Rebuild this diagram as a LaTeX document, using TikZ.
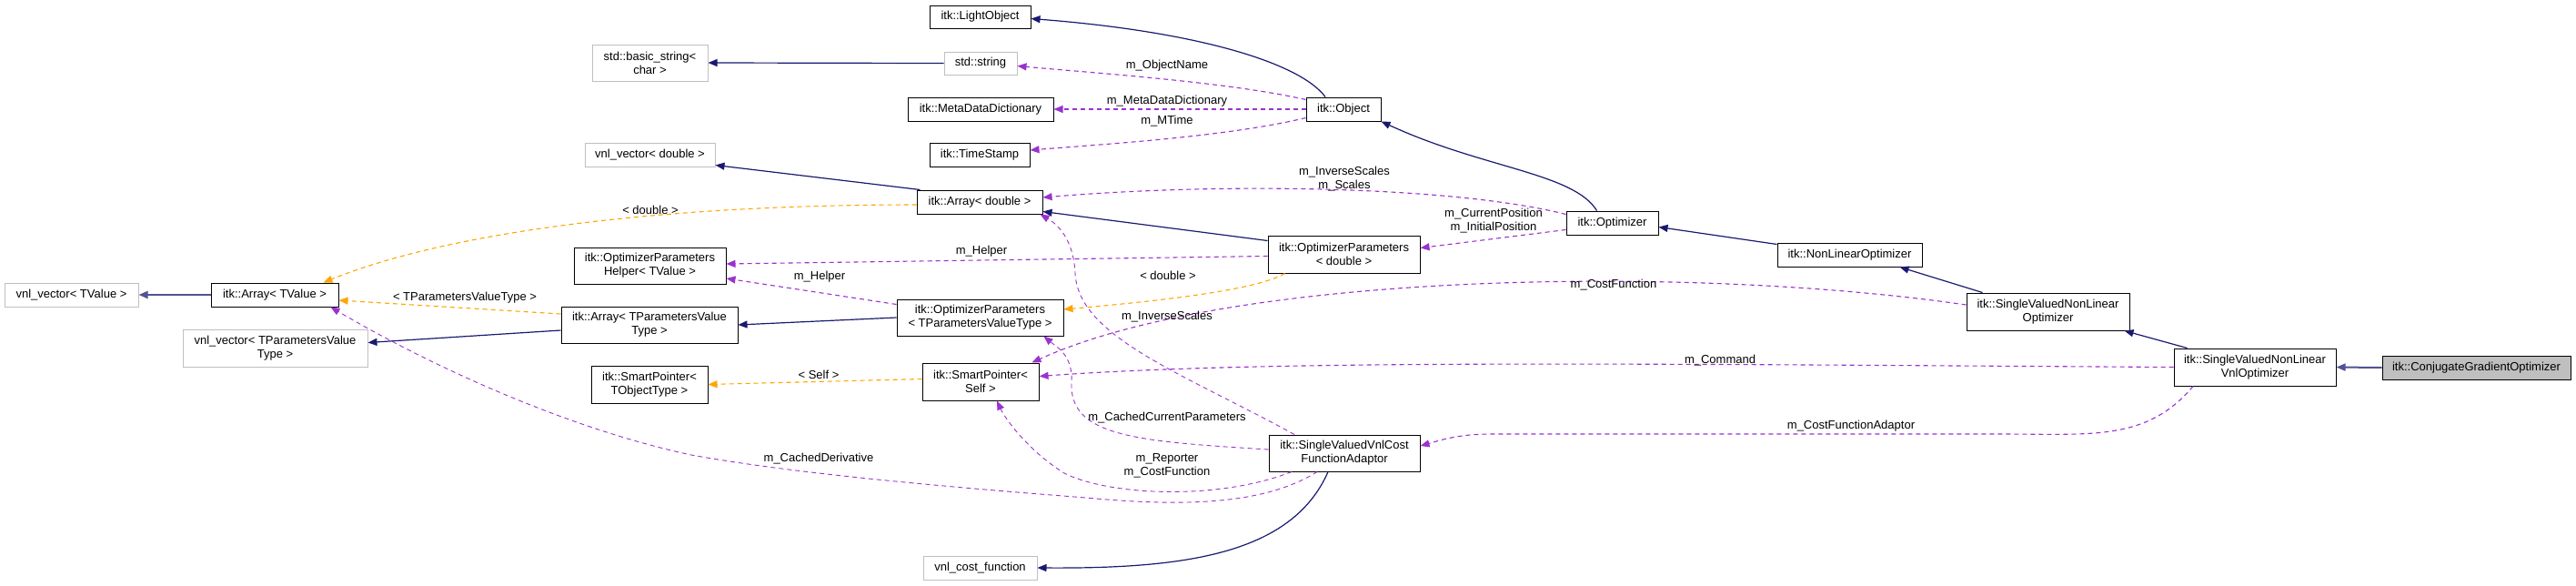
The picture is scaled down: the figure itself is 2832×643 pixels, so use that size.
\documentclass[tikz,border=0pt]{standalone}
\usepackage{fontspec}
\setmainfont{Liberation Sans}
\usetikzlibrary{arrows.meta}
\definecolor{inhc}{HTML}{191970}
\definecolor{usec}{HTML}{9A32CD}
\definecolor{tplc}{HTML}{FFA500}
\definecolor{grayb}{HTML}{BFBFBF}
\begin{document}
\begin{tikzpicture}[x=1pt,y=-1pt,
  every node/.style={font=\fontsize{13}{15}\selectfont},
  cls/.style={draw=black,line width=1pt,inner sep=0pt,align=center,fill=white},
  ext/.style={draw=grayb,line width=1pt,inner sep=0pt,align=center,fill=white},
  tgt/.style={draw=black,line width=1pt,inner sep=0pt,align=center,fill=grayb},
  sz/.style 2 args={minimum width=#1pt,minimum height=#2pt},
  inh/.style={draw=inhc,line width=1.2pt,-{Triangle[length=10pt,width=8pt]}},
  use/.style={draw=usec,line width=1.1pt,dash pattern=on 5pt off 4pt,-{Triangle[length=10pt,width=8pt]}},
  tpl/.style={draw=tplc,line width=1.1pt,dash pattern=on 5pt off 4pt,-{Triangle[length=10pt,width=8pt]}},
  lbl/.style={inner sep=0pt,align=center}]
\useasboundingbox[fill=white] (0,0) rectangle (2832,643);
% nodes
\node[ext,sz={147}{26}] (vtv) at (78.5,324) {vnl\_vector< TValue >};
\node[cls,sz={140}{26}] (atv) at (302,324) {itk::Array< TValue >};
\node[ext,sz={203}{41}] (vtp) at (302.5,382.5) {vnl\_vector< TParametersValue\\Type >};
\node[ext,sz={143}{26}] (vd) at (714.5,170) {vnl\_vector< double >};
\node[cls,sz={110}{26}] (ts) at (1077,170) {itk::TimeStamp};
\node[cls,sz={138}{26}] (ad) at (1077,222) {itk::Array< double >};
\node[cls,sz={167}{40}] (oph) at (714.5,292) {itk::OptimizerParameters\\Helper< TValue >};
\node[cls,sz={194}{40}] (atp) at (714,357) {itk::Array< TParametersValue\\Type >};
\node[cls,sz={183}{40}] (optp) at (1077.5,349) {itk::OptimizerParameters\\< TParametersValueType >};
\node[cls,sz={128}{41}] (spt) at (714,422.5) {itk::SmartPointer<\\TObjectType >};
\node[cls,sz={128}{41}] (sps) at (1078,419.5) {itk::SmartPointer<\\Self >};
\node[ext,sz={125}{26}] (vcf) at (1077.5,624) {vnl\_cost\_function};
\node[cls,sz={111}{25}] (lo) at (1077.5,18.5) {itk::LightObject};
\node[ext,sz={127}{40}] (bs) at (714.5,69) {std::basic\_string<\\char >};
\node[ext,sz={80}{25}] (ss) at (1078,69.5) {std::string};
\node[cls,sz={160}{26}] (mdd) at (1078,120) {itk::MetaDataDictionary};
\node[cls,sz={82}{26}] (obj) at (1477,120) {itk::Object};
\node[cls,sz={101}{26}] (opt) at (1772.5,245) {itk::Optimizer};
\node[cls,sz={167}{41}] (opd) at (1477.5,279.5) {itk::OptimizerParameters\\< double >};
\node[cls,sz={159}{26}] (nlo) at (2033.5,280) {itk::NonLinearOptimizer};
\node[cls,sz={179}{41}] (svo) at (2251.5,342.5) {itk::SingleValuedNonLinear\\Optimizer};
\node[cls,sz={178}{41}] (vno) at (2479,403.5) {itk::SingleValuedNonLinear\\VnlOptimizer};
\node[tgt,sz={207}{26}] (cgo) at (2722.5,404) {itk::ConjugateGradientOptimizer};
\node[cls,sz={166}{40}] (ada) at (1478,498) {itk::SingleValuedVnlCost\\FunctionAdaptor};
% inheritance
\draw[inh,line width=2pt,draw=inhc!75] (cgo.west) -- (vno.east);
\draw[inh] ([xshift=15pt]vno.north west) -- ([xshift=-6pt]svo.south east);
\draw[inh] ([xshift=18pt]svo.north west) -- ([xshift=-25pt]nlo.south east);
\draw[inh] ([yshift=-2pt]nlo.north west) -- ([yshift=9pt]opt.south east);
\draw[inh] ([xshift=-17pt]opt.north) .. controls (1730,190) and (1630,185) .. (obj.south east);
\draw[inh] ([xshift=-20pt]obj.north) .. controls (1430,70) and (1320,35) .. ([yshift=-2pt]lo.east);
\draw[inh] (ss.west) -- (bs.east);
\draw[inh] ([xshift=4pt]ad.north west) -- ([yshift=2pt]vd.south east);
\draw[inh] ([yshift=-6pt]opd.north west) -- ([yshift=3pt]ad.south east);
\draw[inh] (optp.west) -- (atp.east);
\draw[inh] ([yshift=-6pt]atp.west) -- ([yshift=6pt]vtp.east);
\draw[inh,line width=2pt,draw=inhc!75] (atv.west) -- (vtv.east);
\draw[inh] ([xshift=-18pt]ada.south) .. controls (1420,610) and (1300,625) .. (vcf.east);
% template
\draw[tpl] ([yshift=-3pt]ad.west) .. controls (700,225) and (480,260) .. ([xshift=-17pt]atv.north east);
\node[lbl] (l1) at (715,231) {< double >};
\draw[tpl] ([yshift=12pt]atp.west) -- ([yshift=-6pt]atv.east);
\node[lbl] (l2) at (511,327) {< TParametersValueType >};
\draw[tpl] ([xshift=-65pt]opd.south) .. controls (1380,320) and (1260,332) .. ([yshift=9pt]optp.east);
\node[lbl] (l3) at (1284,303) {< double >};
\draw[tpl] ([yshift=3pt]sps.west) -- (spt.east);
\node[lbl] (l4) at (900,412) {< Self >};
% usage
\draw[use] ([yshift=-3pt]obj.north west) .. controls (1350,90) and (1200,80) .. ([yshift=-3pt]ss.east);
\node[lbl] (l5) at (1283,72) {m\_ObjectName};
\draw[use] (obj.west) -- (mdd.east);
\node[lbl] (l6) at (1283,111) {m\_MetaDataDictionary};
\draw[use] ([yshift=4pt]obj.south west) .. controls (1350,150) and (1220,158) .. ([yshift=5pt]ts.east);
\node[lbl] (l7) at (1283,133) {m\_MTime};
\draw[use] ([yshift=-4pt]opt.north west) .. controls (1600,205) and (1350,200) .. ([yshift=5pt]ad.east);
\node[lbl] (l8) at (1478,197) {m\_InverseScales\\m\_Scales};
\draw[use] ([yshift=6pt]opt.south west) -- ([yshift=7pt]opd.east);
\node[lbl] (l9) at (1642,243) {m\_CurrentPosition\\m\_InitialPosition};
\draw[use] ([yshift=-2pt]opd.west) -- ([yshift=2pt]oph.east);
\node[lbl] (l10) at (1079,276) {m\_Helper};
\draw[use] ([yshift=-6pt]optp.north west) -- ([yshift=-14pt]oph.east);
\node[lbl] (l11) at (901,304) {m\_Helper};
\draw[use] ([yshift=7.5pt]svo.west) .. controls (1850,290) and (1350,300) .. ([xshift=-8pt]sps.north east);
\node[lbl] (l12) at (1774,313) {m\_CostFunction};
\draw[use] (vno.west) .. controls (1800,400) and (1400,395) .. ([yshift=6pt]sps.east);
\node[lbl] (l13) at (1891,396) {m\_Command};
\draw[use] ([xshift=-68pt]vno.south) .. controls (2360,485) and (2300,477) .. (2200,477) -- (1640,477) .. controls (1600,477) and (1580,485) .. ([yshift=8pt]ada.east);
\node[lbl] (l14) at (2035,468) {m\_CostFunctionAdaptor};
\draw[use,line width=0.9pt] ([xshift=-55pt]ada.north) .. controls (1300,410) and (1185,370) .. (1182,300) .. controls (1180,260) and (1160,245) .. ([xshift=-3pt]ad.south east);
\node[lbl] (l15) at (1283,348) {m\_InverseScales};
\draw[use,line width=0.9pt] ([yshift=4pt]ada.west) .. controls (1250,485) and (1175,480) .. (1178,420) .. controls (1180,390) and (1160,380) .. ([xshift=-22pt]optp.south east);
\node[lbl] (l16) at (1283,459) {m\_CachedCurrentParameters};
\draw[use,line width=0.9pt] ([xshift=-58pt]ada.south) .. controls (1340,550) and (1220,545) .. (1170,520) .. controls (1130,495) and (1105,460) .. ([xshift=18pt]sps.south);
\node[lbl] (l17) at (1283,512) {m\_Reporter\\m\_CostFunction};
\draw[use,line width=0.9pt] ([xshift=-30pt]ada.south) .. controls (1390,555) and (1300,557) .. (1194,547) .. controls (1000,532) and (860,518) .. (760,500) .. controls (620,470) and (470,400) .. ([xshift=-9pt]atv.south east);
\node[lbl] (l18) at (900,504) {m\_CachedDerivative};
\end{tikzpicture}
\end{document}
